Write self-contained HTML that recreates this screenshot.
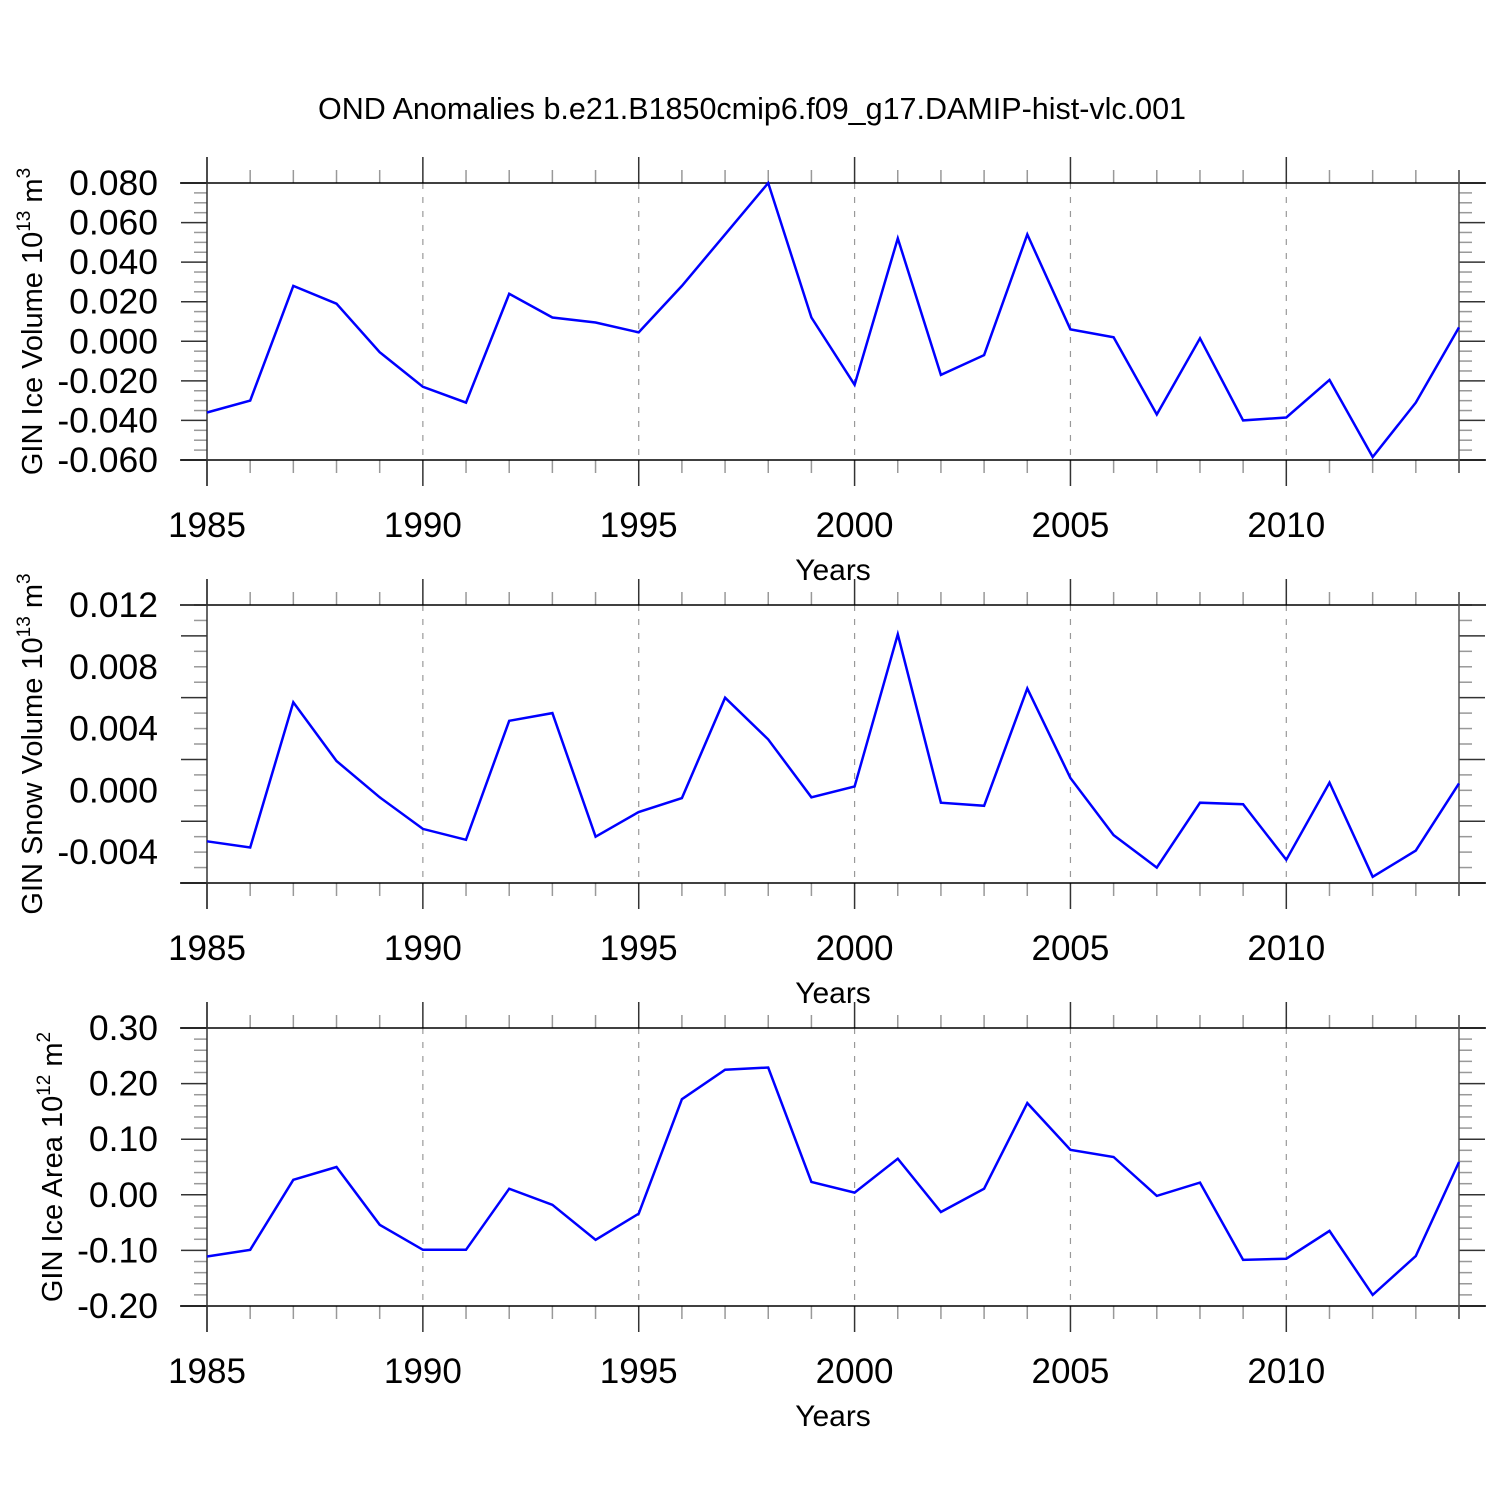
<!DOCTYPE html>
<html><head><meta charset="utf-8">
<style>
html,body{margin:0;padding:0;background:#fff;}
svg{display:block;font-family:"Liberation Sans",Arial,sans-serif;}
</style></head>
<body>
<svg id="chart" width="1500" height="1500" viewBox="0 0 1500 1500" xmlns="http://www.w3.org/2000/svg">
<rect width="1500" height="1500" fill="#fff"/>
<text x="752" y="119" font-size="30.5" text-anchor="middle">OND Anomalies b.e21.B1850cmip6.f09_g17.DAMIP-hist-vlc.001</text>
</svg>
<script>
const years = [1985,1986,1987,1988,1989,1990,1991,1992,1993,1994,1995,1996,1997,1998,1999,2000,2001,2002,2003,2004,2005,2006,2007,2008,2009,2010,2011,2012,2013,2014];
const iceVolume = [-0.036,-0.030,0.028,0.019,-0.0055,-0.023,-0.031,0.024,0.012,0.0095,0.0045,0.028,0.054,0.080,0.012,-0.022,0.052,-0.017,-0.007,0.054,0.006,0.002,-0.037,0.0015,-0.040,-0.0385,-0.0195,-0.0585,-0.031,0.007];
const snowVolume = [-0.0033,-0.0037,0.0057,0.0019,-0.00045,-0.0025,-0.0032,0.0045,0.0050,-0.0030,-0.0014,-0.0005,0.0060,0.0033,-0.00045,0.00025,0.0101,-0.0008,-0.001,0.0066,0.0008,-0.0029,-0.005,-0.0008,-0.0009,-0.0045,0.0005,-0.0056,-0.0039,0.00045];
const iceArea = [-0.111,-0.099,0.027,0.050,-0.054,-0.099,-0.099,0.011,-0.018,-0.081,-0.034,0.172,0.225,0.229,0.023,0.004,0.065,-0.031,0.011,0.165,0.081,0.068,-0.002,0.022,-0.117,-0.115,-0.065,-0.180,-0.110,0.059];
const xTickYears = [1985,1990,1995,2000,2005,2010];
const iceVolumeTicks = ["0.080","0.060","0.040","0.020","0.000","-0.020","-0.040","-0.060"];
const snowVolumeTicks = ["0.012","0.008","0.004","0.000","-0.004"];
const iceAreaTicks = ["0.30","0.20","0.10","0.00","-0.10","-0.20"];

const NS = "http://www.w3.org/2000/svg";
const svg = document.getElementById('chart');
function mk(tag, attrs, parent){const e=document.createElementNS(NS,tag);for(const k in attrs)e.setAttribute(k,attrs[k]);(parent||svg).appendChild(e);return e;}

const X0=207, X1=1459;
function xs(yr){return X0+(yr-1985)*(X1-X0)/(2014-1985);}

const panels = [
 {name:'ice-volume', top:183, bot:460, ymin:-0.06, ymax:0.08, major:0.02, minor:0.005, data:iceVolume, ticks:iceVolumeTicks, title:'GIN Ice Volume 10', sup:'13', unit:'3', tx:42},
 {name:'snow-volume', top:605, bot:883, ymin:-0.006, ymax:0.012, major:0.004, minor:0.001, data:snowVolume, ticks:snowVolumeTicks, title:'GIN Snow Volume 10', sup:'13', unit:'3', tx:42},
 {name:'ice-area', top:1028, bot:1306, ymin:-0.2, ymax:0.3, major:0.1, minor:0.02, data:iceArea, ticks:iceAreaTicks, title:'GIN Ice Area 10', sup:'12', unit:'2', tx:62}
];

panels.forEach(p=>{
  const g=mk('g',{});
  
  
  const ys=v=>p.bot-(v-p.ymin)*(p.bot-p.top)/(p.ymax-p.ymin);
  for(let yr=1990; yr<=2010; yr+=5){
    const l=mk('line',{x1:xs(yr),x2:xs(yr),y1:p.top,y2:p.bot,stroke:'#999','stroke-width':1.2,'stroke-dasharray':'6 8'},g);
    
    
  }
  for(let yr=1985; yr<=2014; yr++){
    const maj = (yr%5===0);
    const len = maj?26:13;
    mk('line',{x1:xs(yr),x2:xs(yr),y1:p.top-len,y2:p.top,stroke:maj?'#333':'#999','stroke-width':1.5},g);
    mk('line',{x1:xs(yr),x2:xs(yr),y1:p.bot,y2:p.bot+len,stroke:maj?'#333':'#999','stroke-width':1.5},g);
  }
  const nMin=Math.round((p.ymax-p.ymin)/p.minor);
  const per=Math.round(p.major/p.minor);
  for(let i=0;i<=nMin;i++){
    const y=ys(p.ymin+i*p.minor);
    const maj=(i%per===0);
    const len=maj?26:13;
    mk('line',{x1:X0-len,x2:X0,y1:y,y2:y,stroke:maj?'#333':'#999','stroke-width':1.5},g);
    mk('line',{x1:X1,x2:X1+len,y1:y,y2:y,stroke:maj?'#333':'#999','stroke-width':1.5},g);
  }
  mk('line',{x1:180,x2:1486,y1:p.top,y2:p.top,stroke:'#000','stroke-width':1.5},g);
  mk('line',{x1:180,x2:1486,y1:p.bot,y2:p.bot,stroke:'#000','stroke-width':1.5},g);
  mk('line',{x1:X0,x2:X0,y1:p.top-26,y2:p.bot+26,stroke:'#333','stroke-width':1.5},g);
  mk('line',{x1:X1,x2:X1,y1:p.top-13,y2:p.bot+13,stroke:'#555','stroke-width':1.5},g);
  p.ticks.forEach((t,i)=>{
    const v=p.ymax-i*p.major;
    const tx=mk('text',{x:158,y:ys(v)+12,'font-size':35.5,'text-anchor':'end'},g);
    tx.textContent=t;
    
    
  });
  xTickYears.forEach(yr=>{
    const tx=mk('text',{x:xs(yr),y:p.bot+77,'font-size':35,'text-anchor':'middle'},g);
    tx.textContent=yr;
    
    
  });
  const xt=mk('text',{x:833,y:p.bot+120,'font-size':30,'text-anchor':'middle'},g);
  xt.textContent='Years';
  
  
  const cy=(p.top+p.bot)/2;
  const yt=mk('text',{x:0,y:0,'font-size':29,'text-anchor':'middle',transform:`translate(${p.tx},${cy}) rotate(-90)`},g);
  
  
  yt.appendChild(document.createTextNode(p.title));
  const s1=mk('tspan',{dy:-12,'font-size':19},yt); s1.textContent=p.sup;
  const s2=mk('tspan',{dy:12},yt); s2.textContent=' m';
  const s3=mk('tspan',{dy:-12,'font-size':19},yt); s3.textContent=p.unit;
  const pts=p.data.map((v,i)=>xs(years[i]).toFixed(1)+','+ys(v).toFixed(1)).join(' ');
  const pl=mk('polyline',{points:pts,fill:'none',stroke:'#0000ff','stroke-width':2.5,'stroke-linejoin':'miter'},g);
  
  
});
</script>
</body></html>
